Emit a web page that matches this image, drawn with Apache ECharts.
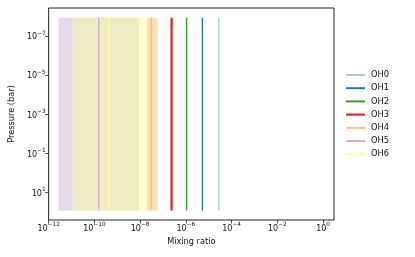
<!DOCTYPE html>
<html>
<head>
<meta charset="utf-8">
<script src="https://cdn.jsdelivr.net/npm/echarts@6/dist/echarts.min.js"></script>
<style>
html,body{margin:0;padding:0;background:#fff;}
#chart{width:415px;height:257px;}
</style>
</head>
<body>
<div id="chart"></div>
<script>
const species = ['OH0', 'OH1', 'OH2', 'OH3', 'OH4', 'OH5', 'OH6'];
const colors = ['#a6cee3', '#1f78b4', '#33a02c', '#e31a1c', '#fdbf6f', '#cab2d6', '#ffff99'];
const mixingRatio = [2.75e-5, 5.3e-6, 1.08e-6, 2.4e-7, 3.1e-8, 1.55e-10, 4.3e-10];
const bandLow = [2.75e-5, 5.3e-6, 1.08e-6, 2.05e-7, 1.95e-8, 2.7e-12, 1.1e-11];
const bandHigh = [2.75e-5, 5.3e-6, 1.08e-6, 2.8e-7, 5.8e-8, 9.0e-9, 1.95e-8];
const pressureRange = [1.2e-8, 85];
const xTicks = [1e-12, 1e-10, 1e-8, 1e-6, 1e-4, 1e-2, 1];
const yTicks = [1e-7, 1e-5, 1e-3, 1e-1, 10];

function fmt(v) {
  const e = Math.round(Math.log10(v));
  return '{b|10}{s|' + String(e).replace('-', '\u2212') + '}';
}

const FONT = 'DejaVu Sans';
const labelRich = {
  b: {fontFamily: FONT, fontSize: 8, color: '#111', lineHeight: 11, verticalAlign: 'bottom'},
  s: {fontFamily: FONT, fontSize: 5.8, color: '#111', lineHeight: 11, verticalAlign: 'top'}
};
const chart = echarts.init(document.getElementById('chart'), null, {renderer: 'canvas'});

const bandData = species.map((s, i) => [bandLow[i], bandHigh[i], pressureRange[0], pressureRange[1], i]);

const lineSeries = species.map((s, i) => ({
  name: s,
  type: 'line',
  symbol: 'none',
  z: 5,
  color: colors[i],
  lineStyle: {color: colors[i], width: 1.4},
  data: [[mixingRatio[i], pressureRange[0]], [mixingRatio[i], pressureRange[1]]]
}));

const option = {
  animation: false,
  textStyle: {fontFamily: FONT},
  grid: {left: 46, right: 81, top: 8, bottom: 37, show: true, borderColor: '#222', borderWidth: 1, backgroundColor: 'transparent'},
  legend: {
    data: species.map((s, i) => ({name: s, icon: 'rect', itemStyle: {color: colors[i]}})),
    orient: 'vertical',
    left: 341,
    top: 66,
    itemWidth: 19,
    itemHeight: 2,
    itemGap: 5.2,
    textStyle: {fontFamily: FONT, fontSize: 8.3, color: '#111', padding: [0, 0, 0, 1]},
    selectedMode: false
  },
  xAxis: {
    type: 'log',
    logBase: 10,
    min: 1e-12,
    max: 3,
    name: 'Mixing ratio',
    nameLocation: 'middle',
    nameGap: 15,
    nameTextStyle: {fontFamily: FONT, fontSize: 8.2, color: '#111'},
    axisLine: {show: false},
    splitLine: {show: false},
    minorTick: {show: false},
    axisTick: {show: true, length: 3.5, inside: false, customValues: xTicks, lineStyle: {color: '#222', width: 0.8}},
    axisLabel: {customValues: xTicks, formatter: fmt, rich: labelRich, margin: 1.5}
  },
  yAxis: {
    type: 'log',
    logBase: 10,
    inverse: true,
    min: Math.pow(10, -8.42),
    max: Math.pow(10, 2.42),
    name: 'Pressure (bar)',
    nameLocation: 'middle',
    nameRotate: 90,
    nameGap: 29,
    nameTextStyle: {fontFamily: FONT, fontSize: 8.2, color: '#111'},
    axisLine: {show: false},
    splitLine: {show: false},
    minorTick: {show: false},
    axisTick: {show: true, length: 3.5, inside: false, customValues: yTicks, lineStyle: {color: '#222', width: 0.8}},
    axisLabel: {customValues: yTicks, formatter: fmt, rich: labelRich, margin: 3}
  },
  series: [{
    type: 'custom',
    name: 'bands',
    z: 2,
    silent: true,
    renderItem: function (params, api) {
      const lo = api.value(0), hi = api.value(1);
      if (hi <= lo) return null;
      const p1 = api.coord([lo, api.value(2)]);
      const p2 = api.coord([hi, api.value(3)]);
      const idx = api.value(4);
      return {
        type: 'rect',
        shape: {x: Math.min(p1[0], p2[0]), y: Math.min(p1[1], p2[1]), width: Math.abs(p2[0] - p1[0]), height: Math.abs(p2[1] - p1[1])},
        style: {fill: colors[idx], opacity: 0.5}
      };
    },
    encode: {x: [0, 1], y: [2, 3]},
    data: bandData
  }].concat(lineSeries)
};
chart.setOption(option);
</script>
</body>
</html>
